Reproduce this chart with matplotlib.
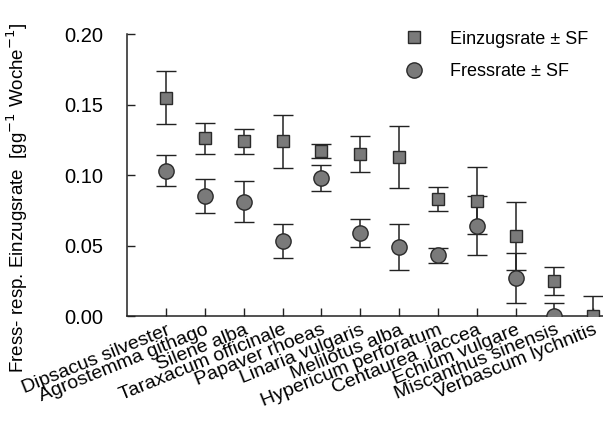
import numpy as np
import matplotlib
matplotlib.use("Agg")
import matplotlib.pyplot as plt
from matplotlib.lines import Line2D

plt.rcParams["font.family"] = ["Liberation Sans", "DejaVu Sans"]

species = ["Dipsacus silvester", "Agrostemma githago", "Silene alba",
           "Taraxacum officinale", "Papaver rhoeas", "Linaria vulgaris",
           "Melilotus alba", "Hypericum perforatum", "Centaurea  jaccea",
           "Echium vulgare", "Miscanthus sinensis", "Verbascum lychnitis"]

# Einzugsrate (squares) and its SF
einzug = [0.155, 0.126, 0.124, 0.124, 0.117, 0.115,
          0.113, 0.083, 0.082, 0.057, 0.025, 0.000]
einzug_sf = [0.019, 0.011, 0.009, 0.019, 0.005, 0.013,
             0.022, 0.0085, 0.024, 0.024, 0.010, 0.014]

# Fressrate (circles) and its SF (none for Verbascum)
fress = [0.103, 0.085, 0.081, 0.053, 0.098, 0.059,
         0.049, 0.043, 0.064, 0.027, 0.000, None]
fress_sf = [0.011, 0.012, 0.0145, 0.012, 0.0095, 0.010,
            0.016, 0.0055, 0.021, 0.018, 0.009, None]

x = np.arange(len(species))

fig = plt.figure(figsize=(6.03, 4.22), dpi=100)
ax = fig.add_axes([0.211, 0.251, 0.789, 0.668])

face = "#7a7a7a"
edge = "#2a2a2a"

ax.errorbar(x, einzug, yerr=einzug_sf, fmt="s", ms=8.5, mfc=face, mec=edge,
            mew=1.0, ecolor="#222222", elinewidth=1.1, capsize=7, capthick=1.1,
            zorder=3)

fx = [xi for xi, v in zip(x, fress) if v is not None]
fv = [v for v in fress if v is not None]
fe = [e for e in fress_sf if e is not None]
ax.errorbar(fx, fv, yerr=fe, fmt="o", ms=11, mfc=face, mec=edge,
            mew=1.0, ecolor="#222222", elinewidth=1.1, capsize=7, capthick=1.1,
            zorder=3)

ax.set_xlim(-1, 11.25)
ax.set_ylim(0, 0.20)
ax.set_yticks([0.0, 0.05, 0.10, 0.15, 0.20])
ax.set_yticklabels(["0.00", "0.05", "0.10", "0.15", "0.20"], fontsize=14.5)
ax.set_xticks(x)
ax.set_xticklabels(species, rotation=22, ha="right", va="top",
                   rotation_mode="anchor", fontsize=14)
ax.tick_params(axis="both", direction="in", length=6, width=1.0, color="#222222")
ax.tick_params(axis="y", pad=17)
ax.tick_params(axis="x", pad=4)

ax.spines["top"].set_visible(False)
ax.spines["right"].set_visible(False)
for s in ("left", "bottom"):
    ax.spines[s].set_linewidth(1.1)
    ax.spines[s].set_color("#222222")

ax.set_ylabel("Fress- resp. Einzugsrate  [gg$^{-1}$ Woche$^{-1}$]", fontsize=13.5)
ax.yaxis.set_label_coords(-0.205, 0.42)

handles = [
    Line2D([], [], ls="none", marker="s", ms=8.5, mfc=face, mec=edge, mew=1.0),
    Line2D([], [], ls="none", marker="o", ms=11, mfc=face, mec=edge, mew=1.0),
]
ax.legend(handles, ["Einzugsrate \u00b1 SF", "Fressrate \u00b1 SF"],
          loc="upper left", bbox_to_anchor=(0.545, 1.07), frameon=False,
          fontsize=13, handletextpad=1.4, labelspacing=0.85, handlelength=1.2)

fig.savefig("out.png", dpi=100)
